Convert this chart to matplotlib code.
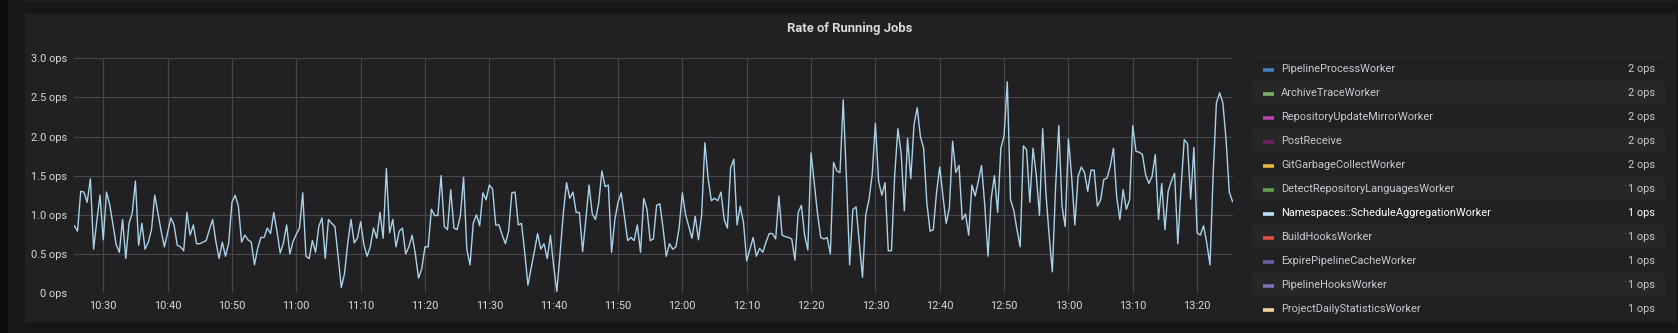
import numpy as np
import pandas as pd
import matplotlib
matplotlib.use("Agg")
import matplotlib.pyplot as plt
import matplotlib.dates as mdates
from matplotlib.patches import Rectangle
from matplotlib.ticker import FuncFormatter, MultipleLocator

# --- data: Namespaces::ScheduleAggregationWorker, one sample every 30 s ---
v_1025 = [0.86, 0.79, 1.30, 1.29, 1.16, 1.46, 0.56, 0.92, 1.25]
v_1030 = [0.68, 1.29, 1.13, 0.88, 0.62, 0.52, 0.94, 0.44, 0.89, 1.02, 1.43, 0.61, 0.89, 0.56, 0.65, 0.81, 1.25, 1.02, 0.79, 0.59]
v_1040 = [0.77, 0.96, 0.87, 0.61, 0.59, 0.54, 1.03, 0.74, 0.87, 0.63, 0.63, 0.65, 0.67, 0.81, 0.94, 0.66, 0.44, 0.65, 0.47, 0.64]
v_1050 = [1.16, 1.25, 1.11, 0.65, 0.74, 0.68, 0.65, 0.36, 0.57, 0.71, 0.71, 0.83, 0.76, 1.03, 0.79, 0.51, 0.64, 0.87, 0.50, 0.66]
v_1100 = [0.75, 0.83, 1.28, 0.47, 0.44, 0.67, 0.52, 0.85, 0.96, 0.44, 0.94, 0.89, 0.85, 0.47, 0.07, 0.25, 0.64, 0.94, 0.64, 0.70]
v_1110 = [0.91, 0.62, 0.47, 0.59, 0.83, 0.70, 1.03, 0.70, 1.59, 0.77, 0.94, 0.59, 0.79, 0.83, 0.50, 0.59, 0.74, 0.50, 0.19, 0.31]
v_1120 = [0.59, 0.59, 1.07, 0.99, 0.99, 1.50, 0.85, 0.81, 1.32, 0.83, 0.81, 0.99, 1.48, 0.56, 0.36, 0.89, 1.00, 0.86, 1.28, 1.19]
v_1130 = [1.38, 1.33, 0.87, 0.87, 0.74, 0.63, 0.79, 1.28, 1.29, 0.87, 0.89, 0.52, 0.10, 0.32, 0.53, 0.76, 0.56, 0.63, 0.44, 0.74]
v_1140 = [0.34, 0.02, 0.51, 1.02, 1.41, 1.21, 1.29, 1.03, 1.03, 0.53, 0.94, 1.38, 1.01, 0.94, 1.15, 1.56, 1.36, 1.38, 0.52, 0.93]
v_1150 = [1.16, 1.28, 0.98, 0.67, 0.71, 0.67, 0.87, 0.52, 1.21, 1.07, 0.67, 0.69, 1.12, 1.14, 0.83, 0.47, 0.63, 0.56, 0.59, 0.83]
v_1200 = [1.28, 1.00, 0.85, 0.70, 0.98, 0.68, 1.00, 1.92, 1.47, 1.18, 1.21, 1.18, 1.29, 0.94, 0.83, 1.60, 1.71, 0.87, 1.11, 0.90]
v_1210 = [0.41, 0.56, 0.71, 0.47, 0.57, 0.52, 0.65, 0.76, 0.76, 0.69, 1.24, 0.74, 0.72, 0.71, 0.69, 0.42, 1.03, 1.12, 0.74, 0.55]
v_1220 = [1.79, 1.41, 1.02, 0.71, 0.69, 0.71, 0.50, 1.67, 1.56, 1.54, 2.47, 1.47, 0.36, 1.07, 1.10, 0.64, 0.20, 1.00, 1.19, 1.51]
v_1230 = [2.17, 1.43, 1.25, 1.41, 0.54, 0.54, 1.51, 2.10, 1.79, 1.05, 1.98, 1.46, 2.15, 2.37, 2.00, 1.85, 1.15, 0.79, 0.81, 1.28]
v_1240 = [1.61, 1.24, 0.89, 1.09, 1.94, 1.54, 1.63, 0.94, 1.01, 0.74, 1.38, 1.24, 1.43, 1.63, 1.12, 0.47, 1.21, 1.50, 1.03, 1.85]
v_1250 = [2.01, 2.70, 1.19, 1.06, 0.81, 0.59, 1.88, 1.83, 1.16, 1.85, 1.51, 0.99, 2.10, 1.28, 0.74, 0.27, 1.34, 2.14, 1.11, 0.85]
v_1300 = [1.97, 1.49, 0.87, 1.49, 1.61, 1.54, 1.30, 1.57, 1.57, 1.11, 1.19, 1.45, 1.47, 1.62, 1.85, 1.23, 0.94, 1.32, 1.07, 1.19]
v_1310 = [2.14, 1.81, 1.80, 1.77, 1.51, 1.40, 1.49, 1.77, 0.94, 1.40, 0.81, 1.30, 1.43, 1.53, 0.63, 1.34, 1.96, 1.91, 1.20, 1.86]
v_1320 = [0.77, 0.74, 0.86, 0.64, 0.36, 1.53, 2.43, 2.56, 2.43, 1.96, 1.29, 1.17]

START = "2020-01-01 10:25:30"

legend_names = [
    "PipelineProcessWorker",
    "ArchiveTraceWorker",
    "RepositoryUpdateMirrorWorker",
    "PostReceive",
    "GitGarbageCollectWorker",
    "DetectRepositoryLanguagesWorker",
    "Namespaces::ScheduleAggregationWorker",
    "BuildHooksWorker",
    "ExpirePipelineCacheWorker",
    "PipelineHooksWorker",
    "ProjectDailyStatisticsWorker",
]
legend_values = ["2 ops", "2 ops", "2 ops", "2 ops", "2 ops",
                 "1 ops", "1 ops", "1 ops", "1 ops", "1 ops", "1 ops"]
legend_colors = ["#447EBC", "#7EB26D", "#BA43A9", "#6D1F62", "#EAB839",
                 "#629E51", "#BADFF4", "#E24D42", "#705DA0", "#806EB7", "#F4D598"]
visible_series = "Namespaces::ScheduleAggregationWorker"

# --- styling ---
W, H = 1678, 333
PAGE_BG = "#161719"
PANEL_BG = "#212124"
GRID = "#47474b"
TEXT = "#d8d9da"
LINE = "#a9d2e8"
FONT = ["Roboto", "DejaVu Sans"]

plt.rcParams["font.family"] = FONT

values = np.concatenate([v_1025, v_1030, v_1040, v_1050, v_1100, v_1110, v_1120,
                         v_1130, v_1140, v_1150, v_1200, v_1210, v_1220, v_1230,
                         v_1240, v_1250, v_1300, v_1310, v_1320])
times = pd.date_range(START, periods=len(values), freq="30s")

fig = plt.figure(figsize=(W / 100, H / 100), dpi=100, facecolor=PAGE_BG)

# background layer in pixel coordinates
bg = fig.add_axes([0, 0, 1, 1], zorder=0)
bg.set_xlim(0, W)
bg.set_ylim(H, 0)
bg.axis("off")
bg.add_patch(Rectangle((0, 0), 8, H, color="#0b0c0e", lw=0))
bg.add_patch(Rectangle((25, 0), 1651, 2, color="#1e1e21", lw=0))
bg.add_patch(Rectangle((25, 14), 1651, 308, color=PANEL_BG, lw=0))

bg.text(850, 28.5, "Rate of Running Jobs", color=TEXT, fontsize=9.4,
        fontweight="bold", ha="center", va="center")

# legend table
row_top, row_h = 56.7, 24
bg.plot([1252, 1665], [row_top, row_top], color="#2c2c30", lw=0.8)
for i, (name, val, col) in enumerate(zip(legend_names, legend_values, legend_colors)):
    y0 = row_top + i * row_h
    yc = y0 + row_h / 2
    if i % 2 == 1:
        bg.add_patch(Rectangle((1252, y0), 413, row_h, color="#27272a", lw=0))
    bg.plot([1263, 1274], [yc + 1.5, yc + 1.5], color=col, lw=2.6,
            solid_capstyle="butt")
    hl = name == visible_series
    tc = "#ffffff" if hl else "#c7c9cc"
    bg.text(1281, yc, name, color=tc, fontsize=7.9, ha="left", va="center")
    bg.text(1655, yc, val, color=tc, fontsize=7.9, ha="right", va="center")

# main graph
left, right = 74.3, 1232.5
bottom, top = 293, 58.3
ax = fig.add_axes([left / W, 1 - bottom / H, (right - left) / W, (bottom - top) / H],
                  zorder=1)
ax.set_facecolor("none")
ax.plot(times, values, color=LINE, lw=1.0)
ax.set_xlim(times[0], times[-1])
ax.set_ylim(0, 3)
ax.yaxis.set_major_locator(MultipleLocator(0.5))
ax.yaxis.set_major_formatter(FuncFormatter(lambda v, p: "0 ops" if v == 0 else f"{v:.1f} ops"))
ax.xaxis.set_major_locator(mdates.MinuteLocator(byminute=range(0, 60, 10)))
ax.xaxis.set_major_formatter(mdates.DateFormatter("%H:%M"))
ax.grid(True, color=GRID, lw=0.8)
ax.set_axisbelow(True)
for s in ax.spines.values():
    s.set_visible(False)
ax.tick_params(axis="both", length=0, colors=TEXT, labelsize=7.9)
ax.tick_params(axis="y", pad=5)
ax.tick_params(axis="x", pad=6)

fig.savefig("out.png", dpi=100, facecolor=PAGE_BG)
